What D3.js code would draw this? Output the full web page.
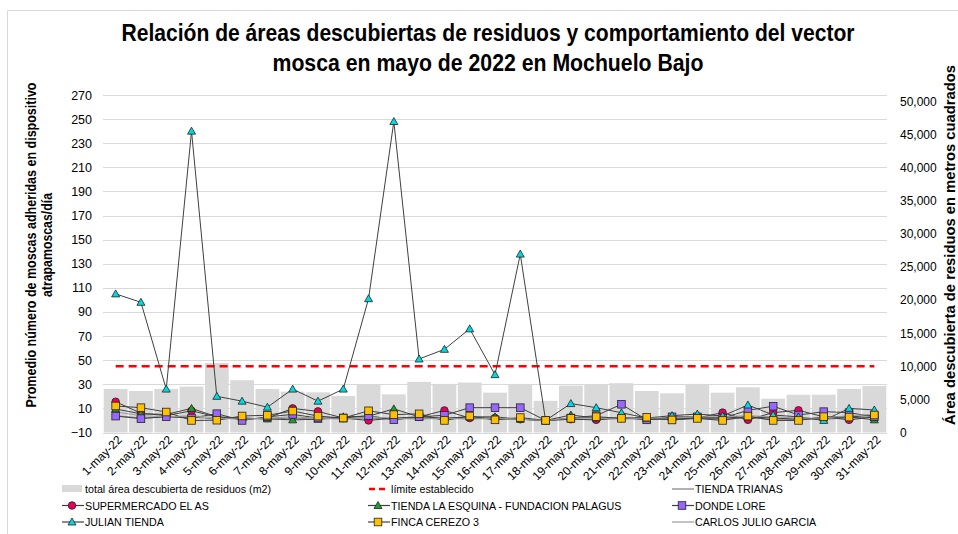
<!DOCTYPE html>
<html>
<head>
<meta charset="utf-8">
<script src="https://cdn.jsdelivr.net/npm/d3@7"></script>
<style>
  html, body { margin: 0; padding: 0; background: #fff; }
  svg { display: block; }
  text { font-family: "Liberation Sans", Arial, sans-serif; fill: #000; }
</style>
</head>
<body>
<svg id="chart" width="958" height="534"></svg>
<script>
// Days of May 2022
const dates = d3.range(1, 32).map(d => d + "-may-22");

// Total uncovered waste area per day (m2), right axis
const area = [6580, 6270, 6580, 6940, 10500, 7900, 6580, 6170, 6070, 5510, 7190,
              5760, 7650, 7340, 7550, 6020, 7340, 4790, 7090, 7190, 7450, 6270,
              5920, 7340, 6020, 6830, 5100, 5710, 5710, 6580, 7040];

// Established limit (flies / trap / day)
const limite = 45;

// Average flies per trap per day by site
const tiendaTrianas = [4, 2, 3, 3, 1, 2, 1, 2, 1, 2, 2, 1, 2, 1, 2, 1, 1, 0, 1, 1, 2, 1, 1, 2, 1, 2, 1, 1, 1, 2, 3];
const supermercado  = [15.5, 6, 4, 8, 3, 1, 2, 10, 7.5, 2, 0, 2, 3, 8.3, 2, 2, 1, 0, 1, 0.5, 2, 1, 1, 2, 6.5, 0.5, 6.5, 8.4, 3, 0.5, 3];
const tiendaEsquina = [9.5, 5.5, 5, 10, 3, 2, 1.3, 0.5, 1, 3, 3.5, 9.6, 3, 2, 3, 3, 1, 0, 4.5, 2, 2, 1, 2, 2, 2, 3, 2, 1, 2, 3, 0.5];
const dondeLore     = [3.6, 1.5, 3.1, 2, 5.6, 0, 3, 5, 2, 2, 4, 0.6, 3, 4.3, 10.6, 10.6, 10.6, 0, 2, 4, 13.4, 0.5, 3, 3, 2, 8.4, 11.8, 4.5, 7.3, 6.5, 3];
const julianTienda  = [105, 98, 26, 240, 20, 16, 11, 26, 16, 26, 101, 248, 51, 59, 76, 38, 138, 0, 14, 10.6, 6.4, 2, 4, 5.3, 3.7, 12.8, 4.5, 3, 0, 10, 8.7];
const fincaCerezo   = [12, 10.6, 7, 0, 0.2, 3.7, 4.3, 7.8, 3.6, 2, 8, 4.8, 5.5, 0, 3.7, 0.5, 2.4, 0, 1.7, 3.1, 1.7, 2.7, 0.4, 1.7, 0, 3.6, 0, 0, 3.1, 2.8, 4.5];
const carlosJulio   = [7, 4, 3, 4, 2, 1, 2, 3, 2, 1, 3, 2, 1, 2, 1, 2, 1, 0, 2, 2, 1, 2, 2, 3, 3, 4, 3, 2, 2, 4, 5];

// Axis tick values
const leftTicks = d3.range(-10, 271, 20);
const rightTicks = d3.range(0, 50001, 5000);

const series = [
  { name: "TIENDA TRIANAS", values: tiendaTrianas, marker: null, fill: null, line: "#7f7f7f" },
  { name: "SUPERMERCADO EL AS", values: supermercado, marker: "circle", fill: "#e8005a", line: "#404040" },
  { name: "TIENDA LA ESQUINA - FUNDACION PALAGUS", values: tiendaEsquina, marker: "triangle", fill: "#1e9e2e", line: "#404040" },
  { name: "DONDE LORE", values: dondeLore, marker: "square", fill: "#9966ff", line: "#404040" },
  { name: "JULIAN TIENDA", values: julianTienda, marker: "triangle", fill: "#00d9e0", line: "#404040" },
  { name: "FINCA CEREZO 3", values: fincaCerezo, marker: "square", fill: "#ffc000", line: "#404040" },
  { name: "CARLOS JULIO GARCIA", values: carlosJulio, marker: null, fill: null, line: "#9a9a9a" }
];

const svg = d3.select("#chart");

// Chart frame
svg.append("path")
  .attr("d", "M7.5,600 V10.5 H1000")
  .attr("fill", "none").attr("stroke", "#d9d9d9").attr("stroke-width", 1);

const plot = { left: 103, right: 887, top: 95, bottom: 432.5 };

const x = d3.scaleBand().domain(dates).range([plot.left, plot.right])
  .paddingInner(0.06).paddingOuter(0.03);
const xc = d => x(d) + x.bandwidth() / 2;
const yL = d3.scaleLinear().domain([-10, 270]).range([plot.bottom, plot.top]);
const yR = d3.scaleLinear().domain([0, 51000]).range([plot.bottom, plot.top]);

// Horizontal gridlines
svg.append("g").selectAll("line").data(leftTicks).join("line")
  .attr("x1", plot.left).attr("x2", plot.right)
  .attr("y1", d => Math.round(yL(d)) + 0.5).attr("y2", d => Math.round(yL(d)) + 0.5)
  .attr("stroke", "#d9d9d9").attr("stroke-width", 1);

// Area bars (secondary axis)
svg.append("g").selectAll("rect").data(dates).join("rect")
  .attr("x", d => x(d)).attr("width", x.bandwidth())
  .attr("y", (d, i) => yR(area[i])).attr("height", (d, i) => yR(0) - yR(area[i]))
  .attr("fill", "#d9d9d9");

// Left axis
const gL = svg.append("g").attr("transform", `translate(${plot.left},0)`)
  .call(d3.axisLeft(yL).tickValues(leftTicks).tickSize(0).tickPadding(11));
gL.select(".domain").remove();
gL.selectAll("text").attr("font-size", 12.5).attr("font-family", "Liberation Sans, Arial, sans-serif").attr("fill", "#262626");

// Right axis
const gR = svg.append("g").attr("transform", `translate(${plot.right},0)`)
  .call(d3.axisRight(yR).tickValues(rightTicks).tickSize(0).tickPadding(13).tickFormat(d3.format(",")));
gR.select(".domain").remove();
gR.selectAll("text").attr("font-size", 12).attr("font-family", "Liberation Sans, Arial, sans-serif").attr("fill", "#262626");

// Category labels, rotated
const gX = svg.append("g").attr("transform", `translate(0,${plot.bottom})`)
  .call(d3.axisBottom(x).tickSize(0).tickPadding(0));
gX.select(".domain").remove();
gX.selectAll("text")
  .attr("font-size", 12).attr("font-family", "Liberation Sans, Arial, sans-serif").attr("fill", "#262626")
  .attr("text-anchor", "end").attr("dy", 0)
  .attr("transform", "translate(7,8) rotate(-45)");

// Established limit
svg.append("line")
  .attr("x1", xc(dates[0])).attr("x2", xc(dates[dates.length - 1]))
  .attr("y1", yL(limite)).attr("y2", yL(limite))
  .attr("stroke", "#ff0000").attr("stroke-width", 2.5).attr("stroke-dasharray", "8,5");

// Marker drawing
function drawMarker(g, type, fill, cx, cy) {
  if (type === "circle") {
    g.append("circle").attr("cx", cx).attr("cy", cy).attr("r", 3.8)
      .attr("fill", fill).attr("stroke", "#222").attr("stroke-width", 0.8);
  } else if (type === "square") {
    g.append("rect").attr("x", cx - 3.8).attr("y", cy - 3.8).attr("width", 7.6).attr("height", 7.6)
      .attr("fill", fill).attr("stroke", "#222").attr("stroke-width", 0.8);
  } else if (type === "triangle") {
    const s = 4;
    g.append("path")
      .attr("d", `M${cx},${cy - s} L${cx + s},${cy + s * 0.75} L${cx - s},${cy + s * 0.75} Z`)
      .attr("fill", fill).attr("stroke", "#222").attr("stroke-width", 0.8);
  }
}

const line = d3.line().x((d, i) => xc(dates[i])).y(d => yL(d));

const gS = svg.append("g");
series.forEach(s => {
  gS.append("path").datum(s.values)
    .attr("d", line).attr("fill", "none")
    .attr("stroke", s.line).attr("stroke-width", 1);
});
series.forEach(s => {
  if (!s.marker) return;
  const g = gS.append("g");
  s.values.forEach((v, i) => drawMarker(g, s.marker, s.fill, xc(dates[i]), yL(v)));
});

// Title
const title = svg.append("g").attr("font-weight", "bold").attr("font-size", 23);
title.append("text").attr("x", 488).attr("y", 41).attr("text-anchor", "middle")
  .attr("textLength", 733).attr("lengthAdjust", "spacingAndGlyphs")
  .text("Relación de áreas descubiertas de residuos y comportamiento del vector");
title.append("text").attr("x", 488).attr("y", 71).attr("text-anchor", "middle")
  .attr("textLength", 431).attr("lengthAdjust", "spacingAndGlyphs")
  .text("mosca en mayo de 2022 en Mochuelo Bajo");

// Left axis title
const lt = svg.append("g").attr("transform", "translate(0,245) rotate(-90)")
  .attr("font-weight", "bold").attr("font-size", 14);
lt.append("text").attr("x", 0).attr("y", 36).attr("text-anchor", "middle")
  .attr("textLength", 325).attr("lengthAdjust", "spacingAndGlyphs")
  .text("Promedio número de moscas adheridas en dispositivo");
lt.append("text").attr("x", 0).attr("y", 52).attr("text-anchor", "middle")
  .attr("textLength", 104).attr("lengthAdjust", "spacingAndGlyphs")
  .text("atrapamoscas/día");

// Right axis title
svg.append("text").attr("transform", "translate(955,245) rotate(-90)")
  .attr("text-anchor", "middle").attr("font-weight", "bold").attr("font-size", 14)
  .attr("textLength", 360).attr("lengthAdjust", "spacingAndGlyphs")
  .text("Área descubierta de residuos en metros cuadrados");

// Legend
const legendItems = [
  { name: "total área descubierta de residuos (m2)", kind: "bar" },
  { name: "límite establecido", kind: "limit" },
  { name: series[0].name, kind: "line", s: series[0] },
  { name: series[1].name, kind: "line", s: series[1] },
  { name: series[2].name, kind: "line", s: series[2] },
  { name: series[3].name, kind: "line", s: series[3] },
  { name: series[4].name, kind: "line", s: series[4] },
  { name: series[5].name, kind: "line", s: series[5] },
  { name: series[6].name, kind: "line", s: series[6] }
];
const colX = [62, 368, 672];
const rowY = [489, 505.5, 522];
const gLeg = svg.append("g");
legendItems.forEach((it, k) => {
  const lx = colX[k % 3], ly = rowY[Math.floor(k / 3)];
  const g = gLeg.append("g");
  if (it.kind === "bar") {
    g.append("rect").attr("x", lx).attr("y", ly - 4).attr("width", 20).attr("height", 7).attr("fill", "#d9d9d9");
  } else if (it.kind === "limit") {
    g.append("line").attr("x1", lx + 1).attr("x2", lx + 20).attr("y1", ly).attr("y2", ly)
      .attr("stroke", "#ff0000").attr("stroke-width", 2.5).attr("stroke-dasharray", "6,4");
  } else {
    g.append("line").attr("x1", lx).attr("x2", lx + 22).attr("y1", ly).attr("y2", ly)
      .attr("stroke", it.s.line).attr("stroke-width", 1.2);
    if (it.s.marker) drawMarker(g, it.s.marker, it.s.fill, lx + 10, ly);
  }
  const t = g.append("text").attr("x", lx + 23).attr("y", ly + 4)
    .attr("font-size", 11.5).attr("fill", "#262626")
    .text(it.name);
  // slightly condensed legend lettering
  const w = t.node().getComputedTextLength();
  t.attr("textLength", w * 0.93).attr("lengthAdjust", "spacingAndGlyphs");
});
</script>
</body>
</html>
